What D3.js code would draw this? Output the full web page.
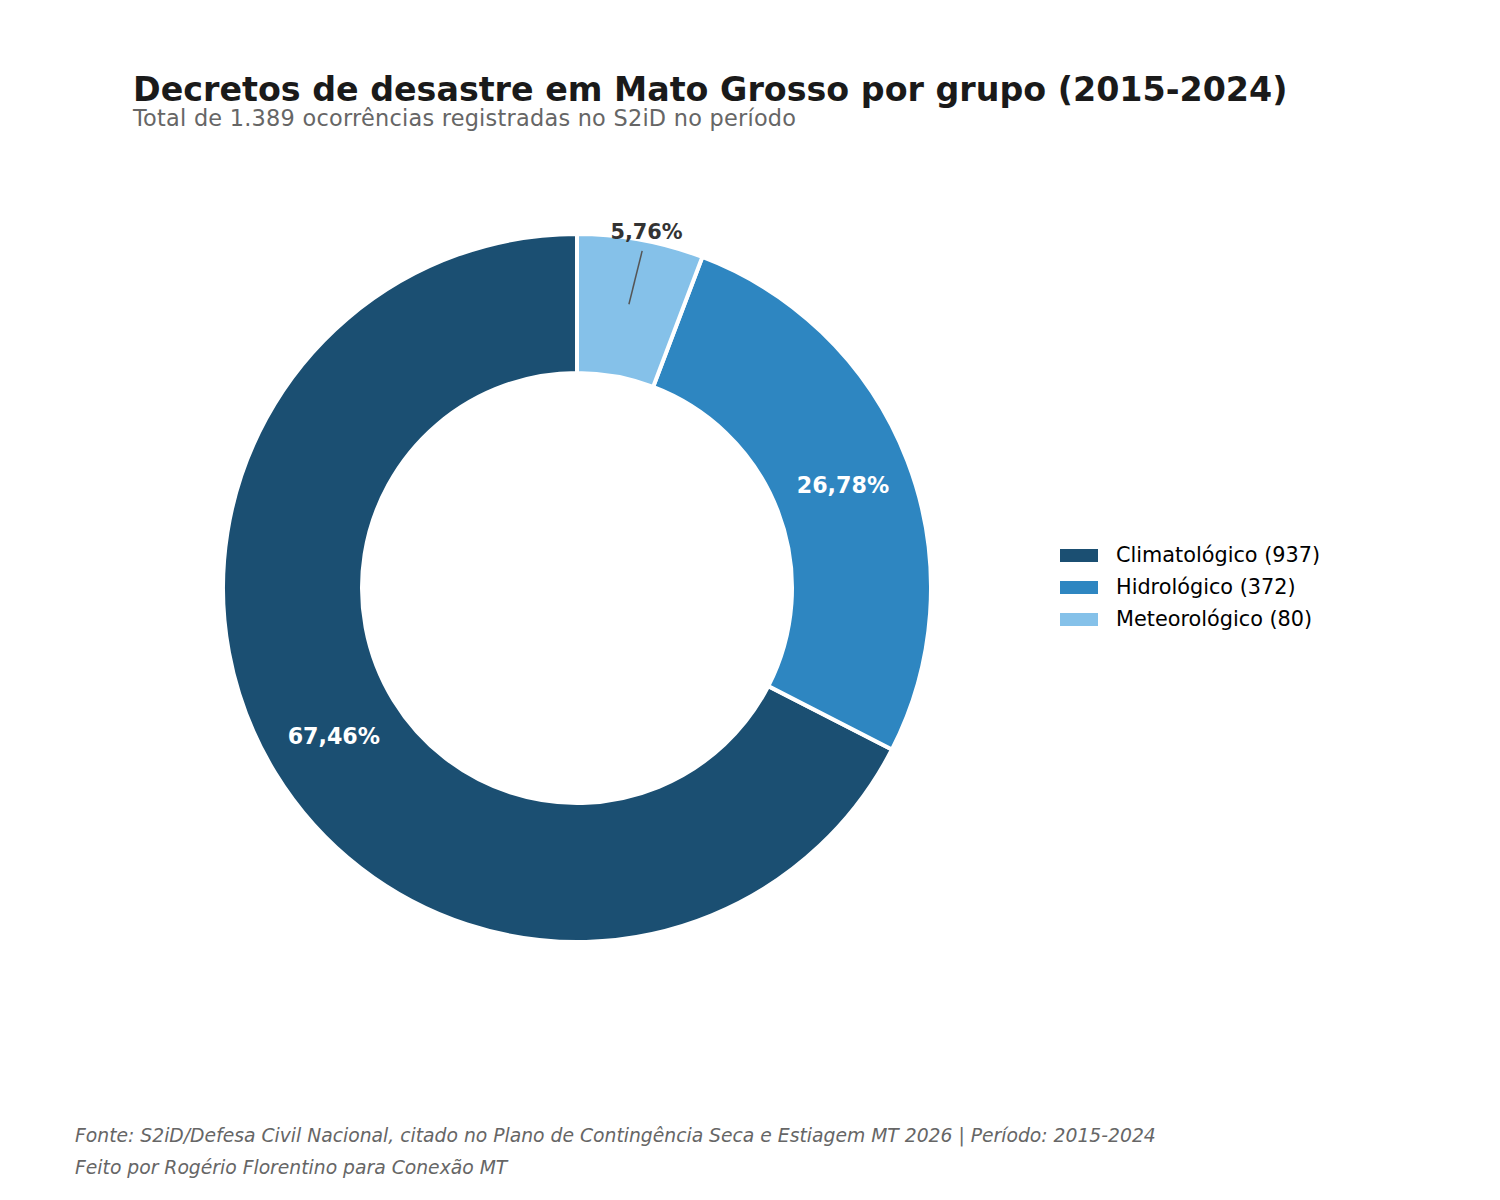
<!DOCTYPE html>
<html>
<head>
<meta charset="utf-8">
<script src="https://cdn.jsdelivr.net/npm/d3@7"></script>
<style>
  body { margin: 0; background: #fff; }
  svg { display: block; font-family: "DejaVu Sans", sans-serif; }
</style>
</head>
<body>
<svg id="chart" width="1500" height="1200"></svg>
<script>
const categories = ["Climatológico", "Hidrológico", "Meteorológico"];
const counts = [937, 372, 80];
const pctLabels = ["67,46%", "26,78%", "5,76%"];
const colors = ["#1B4F72", "#2E86C1", "#85C1E9"];

const svg = d3.select("#chart");
const cx = 577, cy = 588, R = 354, r0 = 215;

svg.append("text").attr("x", 133).attr("y", 101)
  .attr("font-size", 33.3).attr("font-weight", "bold").attr("fill", "#1a1a1a")
  .text("Decretos de desastre em Mato Grosso por grupo (2015-2024)");
svg.append("text").attr("x", 133).attr("y", 125.5)
  .attr("font-size", 22.4).attr("fill", "#666666")
  .attr("textLength", 663).attr("lengthAdjust", "spacing")
  .text("Total de 1.389 ocorrências registradas no S2iD no período");

const data = categories.map((c, i) => ({ cat: c, value: counts[i], pct: pctLabels[i], color: colors[i] }));
const pie = d3.pie().sort(null).value(d => d.value).startAngle(0).endAngle(-2 * Math.PI);
const arcs = pie(data);
const arc = d3.arc().innerRadius(r0).outerRadius(R);

const g = svg.append("g").attr("transform", `translate(${cx},${cy})`);
g.selectAll("path").data(arcs).join("path")
  .attr("d", arc)
  .attr("fill", d => d.data.color)
  .attr("stroke", "#fff").attr("stroke-width", 4).attr("stroke-linejoin", "miter");

function pt(a, rr) { return [Math.sin(a) * rr, -Math.cos(a) * rr]; }

arcs.forEach((d, i) => {
  const mid = (d.startAngle + d.endAngle) / 2;
  if (i < 2) {
    const [x, y] = pt(mid, 0.805 * R);
    g.append("text").attr("x", x).attr("y", y).attr("dy", "0.35em")
      .attr("text-anchor", "middle").attr("font-size", 22.2).attr("font-weight", "bold")
      .attr("fill", "#ffffff").text(d.data.pct);
  } else {
    const [x1, y1] = pt(mid, 0.815 * R);
    const [x2, y2] = pt(mid + 0.01, 0.97 * R);
    g.append("line").attr("x1", x1).attr("y1", y1).attr("x2", x2).attr("y2", y2)
      .attr("stroke", "#555555").attr("stroke-width", 1.5);
    const [tx, ty] = pt(mid + 0.012, 1.025 * R);
    g.append("text").attr("x", tx).attr("y", ty).attr("dy", "0.35em")
      .attr("text-anchor", "middle").attr("font-size", 20.8).attr("font-weight", "bold")
      .attr("fill", "#333333").text(d.data.pct);
  }
});

const lg = svg.append("g").attr("transform", "translate(1060,555)");
data.forEach((d, i) => {
  lg.append("rect").attr("x", 0).attr("y", i * 32 - 6).attr("width", 38).attr("height", 13).attr("fill", d.color);
  lg.append("text").attr("x", 56).attr("y", i * 32).attr("dy", "0.35em")
    .attr("font-size", 20.8).attr("fill", "#000").text(`${d.cat} (${d.value})`);
});

svg.append("text").attr("x", 75).attr("y", 1142)
  .attr("font-size", 18.75).attr("font-style", "italic").attr("fill", "#666666")
  .text("Fonte: S2iD/Defesa Civil Nacional, citado no Plano de Contingência Seca e Estiagem MT 2026 | Período: 2015-2024");
svg.append("text").attr("x", 75).attr("y", 1174)
  .attr("font-size", 18.75).attr("font-style", "italic").attr("fill", "#666666")
  .text("Feito por Rogério Florentino para Conexão MT");
</script>
</body>
</html>
